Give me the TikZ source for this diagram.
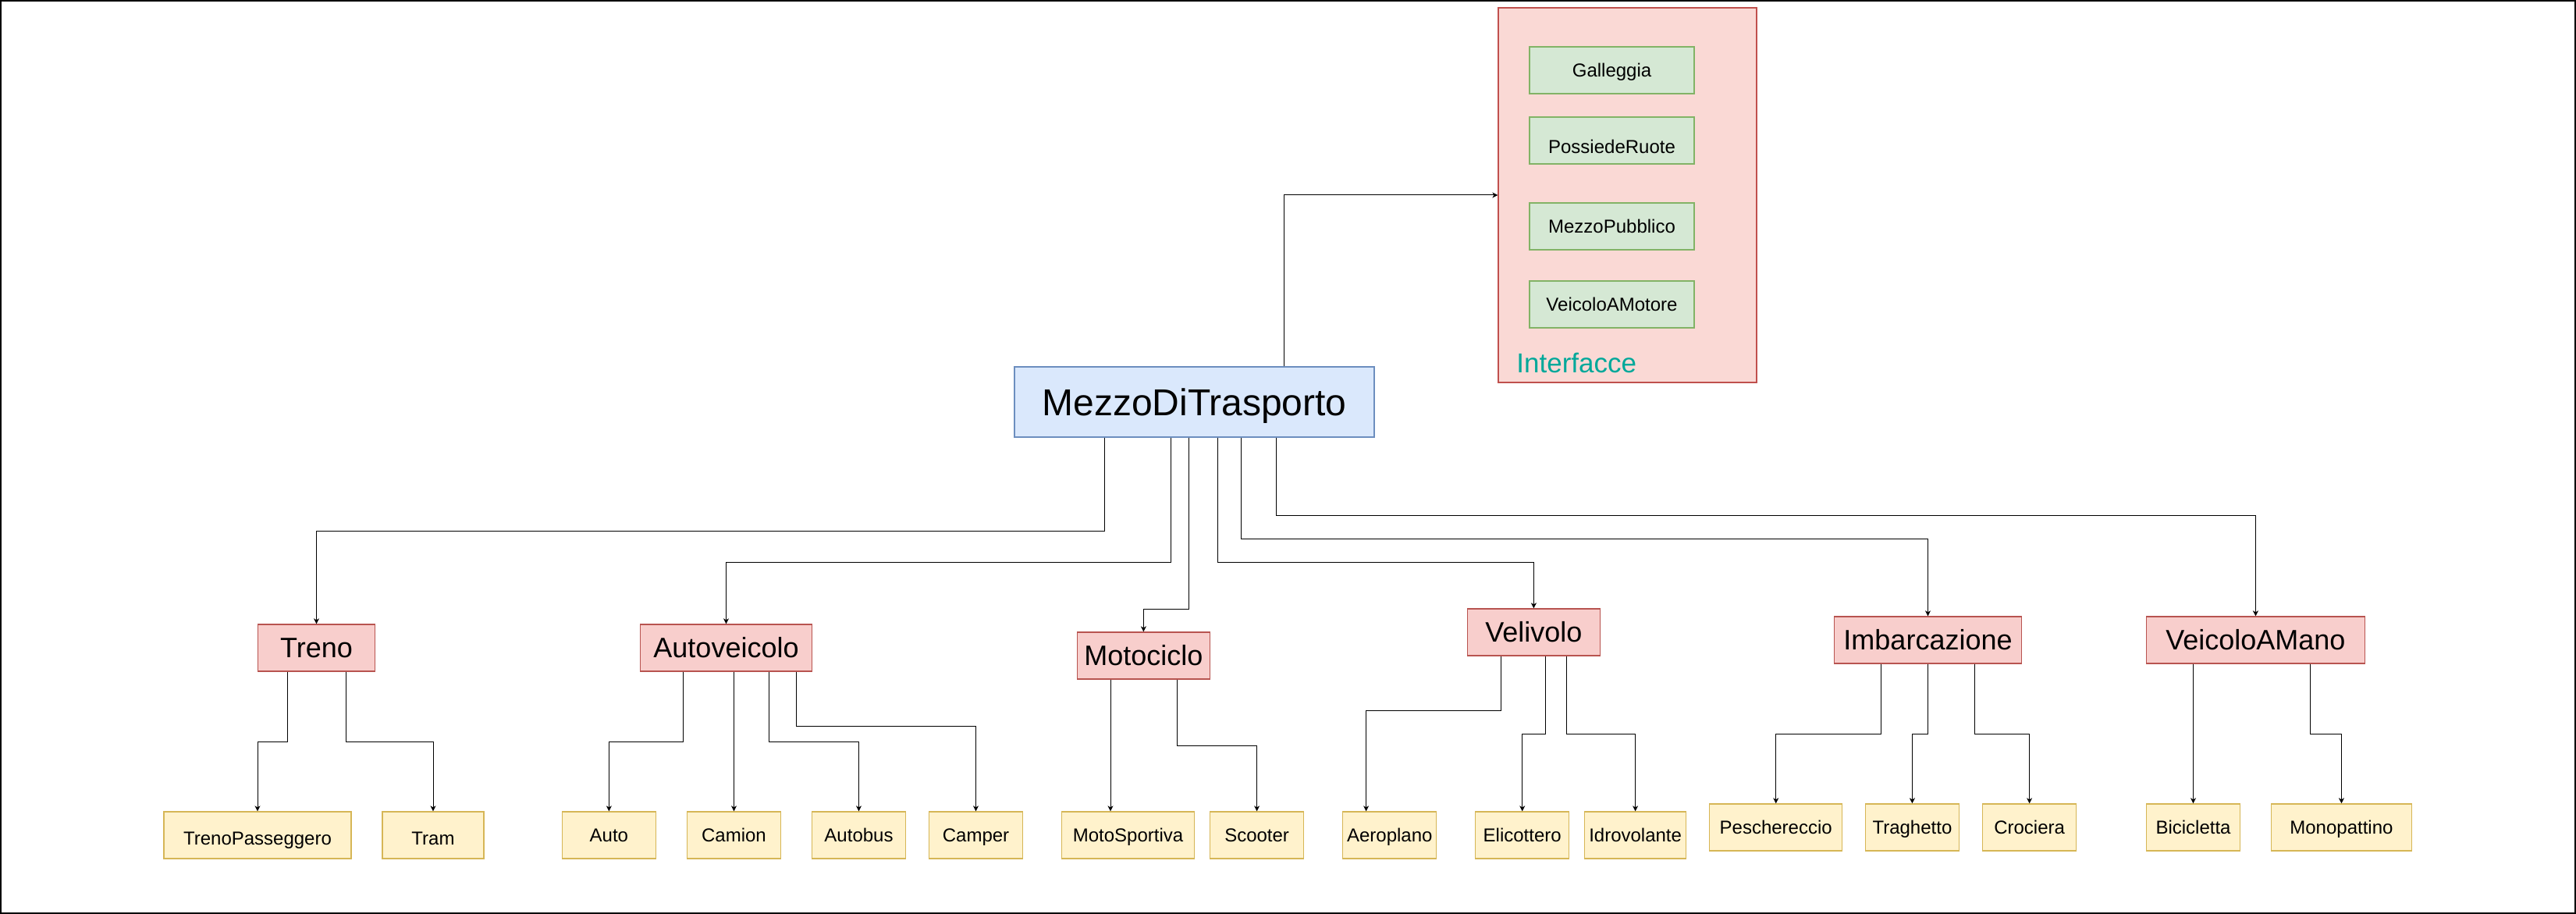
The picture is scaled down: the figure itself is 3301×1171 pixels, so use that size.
\documentclass[tikz,border=0pt]{standalone}
\usepackage{fontspec}
\setmainfont{Liberation Sans}
\usetikzlibrary{arrows.meta}
\definecolor{blueF}{HTML}{DAE8FC}\definecolor{blueD}{HTML}{6C8EBF}
\definecolor{redF}{HTML}{F8CECC}\definecolor{redD}{HTML}{B85450}
\definecolor{greenF}{HTML}{D5E8D4}\definecolor{greenD}{HTML}{82B366}
\definecolor{yelF}{HTML}{FFF2CC}\definecolor{yelD}{HTML}{D6B656}
\definecolor{contF}{HTML}{FAD9D5}\definecolor{contD}{HTML}{C0504D}
\definecolor{tealtxt}{RGB}{0,168,154}
\begin{document}
\begin{tikzpicture}[x=0.5pt,y=-0.5pt,
  box/.style={draw, line width=0.65pt, inner sep=0pt, text depth=0pt, align=center},
  topbox/.style={box, fill=blueF, draw=blueD, minimum width=230.5pt, minimum height=45pt, font=\fontsize{24}{28}\selectfont, text height=17.2pt},
  classbox/.style={box, fill=redF, draw=redD, minimum height=30pt, font=\fontsize{18}{22}\selectfont, text height=12.9pt},
  leafbox/.style={box, fill=yelF, draw=yelD, minimum height=30pt, font=\fontsize{12}{14}\selectfont, text height=8.6pt},
  lowleaf/.style={leafbox, text height=12.6pt},
  ifbox/.style={box, fill=greenF, draw=greenD, minimum width=105.5pt, minimum height=30pt, font=\fontsize{12}{14}\selectfont, text height=8.6pt},
  arr/.style={-{Stealth[length=3.5pt,width=3.5pt,inset=1pt]}, line width=0.5pt, black},
]
\useasboundingbox (0,0) rectangle (3301,1171);
\draw[line width=1pt, black] (1,1) rectangle (3300,1170);

% interfaces container
\node[draw=contD, fill=contF, line width=0.65pt, inner sep=0pt, minimum width=165.5pt, minimum height=240pt] (cont) at (2085.5,250) {};
\node[ifbox] (gal) at (2065.5,90) {Galleggia};
\node[ifbox, text height=16.6pt] (pos) at (2065.5,180) {PossiedeRuote};
\node[ifbox] (pub) at (2065.5,290) {MezzoPubblico};
\node[ifbox] (mot) at (2065.5,390) {VeicoloAMotore};
\node[anchor=base west, inner sep=0pt, text=tealtxt, font=\fontsize{17.5}{21}\selectfont] (ilab) at (1943,477) {Interfacce};

% root
\node[topbox] (mezzo) at (1530.5,515) {MezzoDiTrasporto};

% classes
\node[classbox, minimum width=75pt]  (treno) at (405.5,830) {Treno};
\node[classbox, minimum width=110pt] (auto)  at (930.5,830) {Autoveicolo};
\node[classbox, minimum width=85pt]  (moto)  at (1465.4,840) {Motociclo};
\node[classbox, minimum width=85pt]  (veli)  at (1965.4,810) {Velivolo};
\node[classbox, minimum width=120pt] (imba)  at (2470.5,820) {Imbarcazione};
\node[classbox, minimum width=140pt] (mano)  at (2890.4,820) {VeicoloAMano};

% leaves
\node[lowleaf, minimum width=120pt] (tp)   at (330,1070) {TrenoPasseggero};
\node[lowleaf, minimum width=65pt]  (tram) at (555,1070) {Tram};
\node[leafbox, minimum width=60pt] (car)  at (780.4,1070) {Auto};
\node[leafbox, minimum width=60pt] (cam)  at (940.5,1070) {Camion};
\node[leafbox, minimum width=60pt] (bus)  at (1100.5,1070) {Autobus};
\node[leafbox, minimum width=60pt] (cmp)  at (1250.5,1070) {Camper};
\node[leafbox, minimum width=85pt] (ms)   at (1445.5,1070) {MotoSportiva};
\node[leafbox, minimum width=60pt] (sco)  at (1610.6,1070) {Scooter};
\node[leafbox, minimum width=60pt] (aer)  at (1780.8,1070) {Aeroplano};
\node[leafbox, minimum width=60pt] (eli)  at (1950.7,1070) {Elicottero};
\node[leafbox, minimum width=65pt] (idr)  at (2095.6,1070) {Idrovolante};
\node[leafbox, minimum width=85pt] (pes)  at (2275.7,1060) {Peschereccio};
\node[leafbox, minimum width=60pt] (tra)  at (2450.4,1060) {Traghetto};
\node[leafbox, minimum width=60pt] (cro)  at (2600.6,1060) {Crociera};
\node[leafbox, minimum width=60pt] (bic)  at (2810.5,1060) {Bicicletta};
\node[leafbox, minimum width=90pt] (mon)  at (3000.4,1060) {Monopattino};

% root connectors
\draw[arr] (mezzo.north -| 1645,0) -- (1645,250) -- (cont.west);
\draw[arr] (mezzo.south -| 1415,0) -- (1415,680) -| (treno.north);
\draw[arr] (mezzo.south -| 1500,0) -- (1500,720) -| (auto.north);
\draw[arr] (mezzo.south -| 1523,0) -- (1523,780) -| (moto.north);
\draw[arr] (mezzo.south -| 1560,0) -- (1560,720) -| (veli.north);
\draw[arr] (mezzo.south -| 1590,0) -- (1590,690) -| (imba.north);
\draw[arr] (mezzo.south -| 1635,0) -- (1635,660) -| (mano.north);

% Treno
\draw[arr] (treno.south -| 368,0) -- (368,950) -| (tp.north);
\draw[arr] (treno.south -| 443,0) -- (443,950) -| (tram.north);
% Autoveicolo
\draw[arr] (auto.south -| 875.5,0) -- (875.5,950) -| (car.north);
\draw[arr] (auto.south -| cam.north) -- (cam.north);
\draw[arr] (auto.south -| 985.7,0) -- (985.7,950) -| (bus.north);
\draw[arr] (auto.south -| 1020.5,0) -- (1020.5,930) -| (cmp.north);
% Motociclo
\draw[arr] (moto.south -| 1423,0) -- (ms.north -| 1423,0);
\draw[arr] (moto.south -| 1508,0) -- (1508,955) -| (sco.north);
% Velivolo
\draw[arr] (veli.south -| 1923,0) -- (1923,910) -| (aer.north -| 1750.6,0);
\draw[arr] (veli.south -| 1980.3,0) -- (1980.3,940) -| (eli.north);
\draw[arr] (veli.south -| 2007.8,0) -- (2007.8,940) -| (idr.north);
% Imbarcazione
\draw[arr] (imba.south -| 2410.4,0) -- (2410.4,940) -| (pes.north);
\draw[arr] (imba.south) -- (2470.5,940) -| (tra.north);
\draw[arr] (imba.south -| 2530,0) -- (2530,940) -| (cro.north);
% VeicoloAMano
\draw[arr] (mano.south -| bic.north) -- (bic.north);
\draw[arr] (mano.south -| 2960.4,0) -- (2960.4,940) -| (mon.north);
\end{tikzpicture}
\end{document}
